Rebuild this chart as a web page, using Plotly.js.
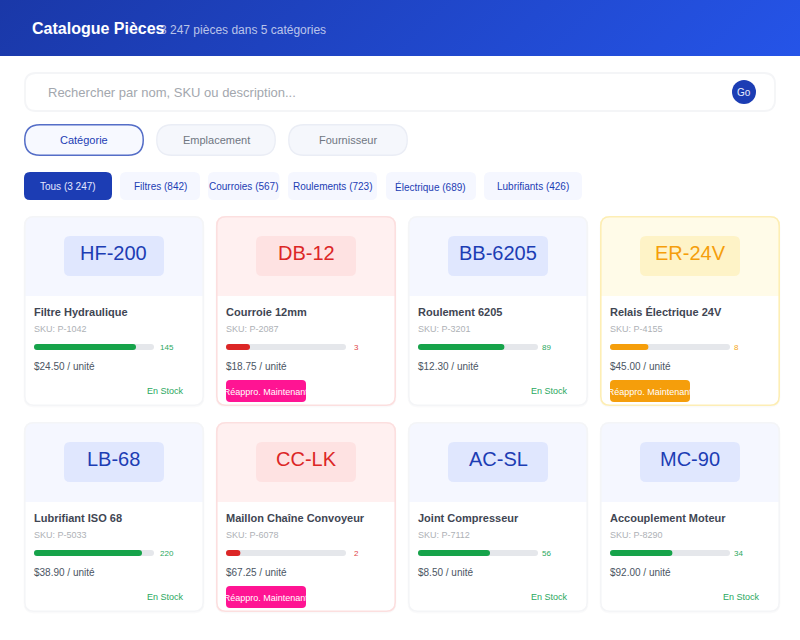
<![CDATA[<!DOCTYPE html>
<html><head><meta charset="utf-8">
<script src="https://cdn.plot.ly/plotly-3.0.1.min.js"></script>
<style>html,body{margin:0;padding:0;background:#fff}#g{width:800px;height:640px}.js-line{stroke-linecap:round}</style>
</head><body><div id="g"></div>
<script>
// ---- data ----
const pageTitle = "Catalogue Pièces";
const pageSubtitle = "3 247 pièces dans 5 catégories";
const searchPlaceholder = "Rechercher par nom, SKU ou description...";
const searchButton = "Go";
const tabs = ["Catégorie", "Emplacement", "Fournisseur"];
const chips = ["Tous (3 247)", "Filtres (842)", "Courroies (567)", "Roulements (723)", "Électrique (689)", "Lubrifiants (426)"];
const codes = ["HF-200", "DB-12", "BB-6205", "ER-24V", "LB-68", "CC-LK", "AC-SL", "MC-90"];
const names = ["Filtre Hydraulique", "Courroie 12mm", "Roulement 6205", "Relais Électrique 24V", "Lubrifiant ISO 68", "Maillon Chaîne Convoyeur", "Joint Compresseur", "Accouplement Moteur"];
const skus = ["P-1042", "P-2087", "P-3201", "P-4155", "P-5033", "P-6078", "P-7112", "P-8290"];
const stockCounts = [145, 3, 89, 8, 220, 2, 56, 34];
const stockPercent = [85, 20, 72, 32, 90, 12, 60, 52];
const prices = ["$24.50", "$18.75", "$12.30", "$45.00", "$38.90", "$67.25", "$8.50", "$92.00"];
const levels = ["ok", "low", "ok", "warn", "ok", "low", "ok", "ok"];
const inStockLabel = "En Stock";
const reorderLabel = "Réappro. Maintenant";

// ---- layout constants & styles ----
const W = 800, H = 640;
const FONT = '"Liberation Sans", Arial, sans-serif';
const NAVY = '#1c3db4';
const cardX = [24, 216, 408, 600], cardY = [216, 422], cardW = 180, cardH = 190;
const tabX = [24, 156, 288], tabW = 120;
const chipEdges = [[24,112],[120,200],[208,279.5],[288,377],[386,476],[484,582]];
const countGap = [6, 8, 4, 4, 6, 8, 4, 4];
const theme = {
  ok:   {head:'#f5f7ff', badge:'#e0e7fe', ink:NAVY,      border:'#f4f5f7', bar:'#16a34a', small:'#2aa85e', btn:null},
  low:  {head:'#fff0f0', badge:'#fee2e2', ink:'#dc2626', border:'#fcdfdf', bar:'#dc2626', small:'#e04848', btn:'#ff1493'},
  warn: {head:'#fffbe8', badge:'#fef3c7', ink:'#f59e0b', border:'#fdeeb5', bar:'#f59e0b', small:'#f6a821', btn:'#f59e0b'}
};
const px = x => x / W, py = y => 1 - y / H;
function rr(x0, y0, x1, y1, r, bottom) {
  const rb = bottom === 0 ? 0 : r;
  const P = (x, y) => px(x) + ',' + py(y);
  return 'M' + P(x0 + r, y0) + ' L' + P(x1 - r, y0) + ' Q' + P(x1, y0) + ' ' + P(x1, y0 + r) +
    ' L' + P(x1, y1 - rb) + ' Q' + P(x1, y1) + ' ' + P(x1 - rb, y1) +
    ' L' + P(x0 + rb, y1) + ' Q' + P(x0, y1) + ' ' + P(x0, y1 - rb) +
    ' L' + P(x0, y0 + r) + ' Q' + P(x0, y0) + ' ' + P(x0 + r, y0) + ' Z';
}
const shapes = [], annotations = [];
function box(x0, y0, x1, y1, r, fill, line, lw, bottom) {
  shapes.push({type:'path', xref:'paper', yref:'paper', layer:'below', path:rr(x0,y0,x1,y1,r,bottom),
    fillcolor:fill || 'rgba(0,0,0,0)', line:{color:line || 'rgba(0,0,0,0)', width:line ? (lw||1) : 0}});
}
function label(x, y, text, size, color, anchor, extra) {
  annotations.push(Object.assign({xref:'paper', yref:'paper', x:px(x), y:py(y), text:text, showarrow:false,
    xanchor:anchor || 'left', yanchor:'middle', borderpad:0, font:{family:FONT, size:size, color:color}}, extra || {}));
}
const LEFT = -1; // annotations sit 1px inside their anchor

// header
const grad = "<svg xmlns='http://www.w3.org/2000/svg' width='800' height='56'><defs><linearGradient id='a' gradientUnits='userSpaceOnUse' x1='186' y1='-186' x2='614' y2='242'><stop offset='0' stop-color='#1a38a8'/><stop offset='1' stop-color='#2554e8'/></linearGradient></defs><rect width='800' height='56' fill='url(#a)'/></svg>";
const images = [{source:'data:image/svg+xml,' + encodeURIComponent(grad), xref:'paper', yref:'paper', x:0, y:1,
  sizex:1, sizey:56/H, sizing:'stretch', xanchor:'left', yanchor:'top', layer:'below'}];
label(32 + LEFT, 29, '<b>' + pageTitle + '</b>', 16, '#ffffff');
label(160 + LEFT, 30, pageSubtitle, 12, 'rgba(255,255,255,0.7)');

// search
box(25, 73, 775, 111, 11, '#ffffff', '#f4f5f7', 1.8);
label(48 + LEFT, 92.5, searchPlaceholder, 13, '#a3a7ae');
shapes.push({type:'circle', xref:'paper', yref:'paper', layer:'below', x0:px(732), x1:px(756), y0:py(80), y1:py(104), fillcolor:NAVY, line:{width:0}});
label(744, 92.5, searchButton, 10, '#e8ecff', 'center');

// tabs
tabs.forEach((t, i) => {
  const on = i === 0;
  box(tabX[i] + 0.75, 124.75, tabX[i] + tabW - 0.75, 155.25, 15.25, on ? '#f7f9ff' : '#f5f7fc', on ? 'rgba(28,61,180,0.75)' : '#eaedf5', on ? 1.5 : 1.3);
  label(tabX[i] + tabW / 2, 140.5, t, 11, on ? NAVY : '#6f7682', 'center');
});

// chips
chips.forEach((t, i) => {
  const [a, b] = chipEdges[i];
  box(a, 172, b, 200, 6, i === 0 ? NAVY : '#f5f7ff');
  label((a + b) / 2, 186.5, t, 10, i === 0 ? '#e3e8ff' : NAVY, 'center');
});

// cards
const traces = [], axes = {};
const capInset = 2.5; // 3px round cap, expressed in % of the 120px gauge
codes.forEach((code, i) => {
  const x = cardX[i % 4], y = cardY[Math.floor(i / 4)], th = theme[levels[i]];
  box(x - 0.5, y + 1, x + cardW + 0.5, y + cardH + 1.5, 11, 'rgba(17,24,39,0.018)');
  box(x, y, x + cardW, y + cardH, 10, '#ffffff');
  box(x, y, x + cardW, y + 80, 10, th.head, null, 0, 0);
  box(x + 0.8, y + 0.8, x + cardW - 0.8, y + cardH - 0.8, 9, null, th.border, 1.6);
  box(x + 40, y + 20, x + 140, y + 60, 6, th.badge);
  label(x + 90, y + 37, code, 20, th.ink, 'center');
  label(x + 10 + LEFT, y + 96, '<b>' + names[i] + '</b>', 11, '#3f4653');
  label(x + 10 + LEFT, y + 113, 'SKU: ' + skus[i], 9, '#aeb1b6');
  label(x + 130 + countGap[i] + LEFT, y + 131, String(stockCounts[i]), 8, th.small);
  label(x + 10 + LEFT, y + 150.5, prices[i] + ' / unité', 10, '#4b5563');
  if (th.btn) {
    box(x + 10, y + 164, x + 90, y + 186, 4, th.btn);
    label(x + 50, y + 175.5, reorderLabel, 9, '#ffffff', 'center', {width:80, height:22, align:'center', valign:'middle'});
  } else {
    label(x + 160 + 1, y + 175, inStockLabel, 9, theme.ok.small, 'right');
  }
  // stock level gauge: its own little axes, 0-100 %
  const n = i + 2, xa = 'x' + n, ya = 'y' + n;
  axes['xaxis' + n] = {domain:[px(x + 10), px(x + 130)], range:[0, 100], visible:false, fixedrange:true, anchor:ya};
  axes['yaxis' + n] = {domain:[py(y + 134), py(y + 128)], range:[-0.5, 0.5], visible:false, fixedrange:true, anchor:xa};
  [[100, '#e5e7eb'], [stockPercent[i], th.bar]].forEach(([v, c]) => {
    traces.push({type:'scatter', mode:'lines', x:[capInset, v - capInset], y:[0, 0], xaxis:xa, yaxis:ya, cliponaxis:false,
      line:{color:c, width:6}, hoverinfo:'skip', showlegend:false});
  });
});

Plotly.newPlot('g', traces, Object.assign({
  width:W, height:H, margin:{l:0, r:0, t:0, b:0, pad:0}, paper_bgcolor:'#ffffff', plot_bgcolor:'rgba(0,0,0,0)',
  showlegend:false, shapes:shapes, annotations:annotations, images:images,
  xaxis:{visible:false}, yaxis:{visible:false}
}, axes), {displayModeBar:false, staticPlot:true});
</script></body></html>]]>
